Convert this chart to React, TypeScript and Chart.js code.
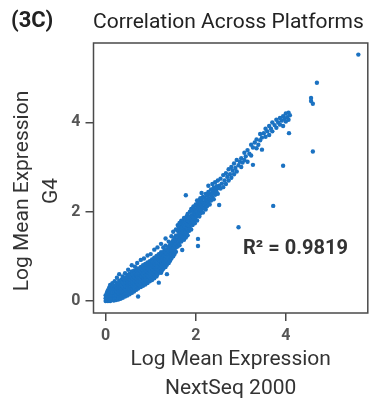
import React, { useEffect, useRef } from 'react';
import { Chart, registerables } from 'chart.js';

Chart.register(...registerables);

const panelLabel = '(3C)';
const chartTitle = 'Correlation Across Platforms';
const xTitleLines = ['Log Mean Expression', 'NextSeq 2000'];
const yTitleLines = ['Log Mean Expression', 'G4'];
const xTickValues = [0, 2, 4];
const yTickValues = [0, 2, 4];
const r2Label = 'R\u00B2 = 0.9819';

// NextSeq 2000 log mean expression (one entry per column of genes)
const nextSeqX = [
  0.0, 0.03, 0.05, 0.08, 0.1, 0.13, 0.15, 0.18, 0.2, 0.23,
  0.25, 0.28, 0.3, 0.33, 0.35, 0.38, 0.4, 0.43, 0.45, 0.48,
  0.5, 0.53, 0.55, 0.58, 0.6, 0.63, 0.65, 0.68, 0.7, 0.72,
  0.75, 0.78, 0.8, 0.83, 0.85, 0.88, 0.9, 0.93, 0.95, 0.98,
  1.0, 1.03, 1.05, 1.08, 1.1, 1.13, 1.15, 1.18, 1.2, 1.23,
  1.25, 1.28, 1.3, 1.33, 1.36, 1.4, 1.43, 1.46, 1.5, 1.53,
  1.56,
  1.6, 1.62, 1.64, 1.66, 1.68, 1.7, 1.72, 1.74, 1.76, 1.78,
  1.8, 1.82, 1.85, 1.87, 1.9, 1.93, 1.95, 1.98, 2.0, 2.03,
  2.05, 2.08, 2.1, 2.13, 2.16, 2.19, 2.22, 2.25, 2.28, 2.31,
  2.34, 2.37, 2.4, 2.43, 2.46, 2.49, 2.52, 2.55, 2.58, 2.61,
  2.64, 2.67, 2.7, 2.73, 2.76, 2.79, 2.82, 2.85, 2.88, 2.91,
  2.95, 2.98, 3.01, 3.04, 3.08, 3.11, 3.15, 3.19, 3.23, 3.27,
  3.31, 3.35, 3.39, 3.43, 3.47, 3.51, 3.55, 3.59, 3.63, 3.67,
  3.7, 3.72, 3.75, 3.79, 3.83, 3.87, 3.91, 3.94, 3.97, 4.0,
  4.03, 4.06, 4.07, 4.09, 4.56, 4.6, 4.69, 5.61,
];

// G4 log mean expression for the genes in each column above
const g4Y = [
  [0.0, 0.06, 0.13],
  [0.02, 0.1, 0.19],
  [0.0, 0.05, 0.14, 0.24],
  [0.03, 0.09, 0.17, 0.3],
  [0.0, 0.06, 0.12, 0.21, 0.36],
  [0.02, 0.1, 0.16, 0.26],
  [0.05, 0.12, 0.19, 0.31, 0.4],
  [0.01, 0.08, 0.15, 0.23, 0.35],
  [0.04, 0.11, 0.18, 0.27, 0.44],
  [0.02, 0.09, 0.16, 0.24, 0.33],
  [0.06, 0.13, 0.21, 0.29, 0.4, 0.52],
  [0.03, 0.11, 0.19, 0.27, 0.36],
  [0.08, 0.16, 0.24, 0.32, 0.45, 0.6],
  [0.05, 0.14, 0.22, 0.3, 0.4],
  [0.1, 0.19, 0.27, 0.35, 0.48],
  [0.07, 0.17, 0.25, 0.33, 0.42, 0.55],
  [0.13, 0.22, 0.3, 0.39, 0.5],
  [0.1, 0.2, 0.28, 0.36, 0.45, 0.62],
  [0.16, 0.25, 0.33, 0.41, 0.52],
  [0.12, 0.22, 0.31, 0.39, 0.47, 0.58],
  [0.19, 0.28, 0.36, 0.44, 0.55, 0.7],
  [0.15, 0.25, 0.34, 0.42, 0.5, 0.61],
  [0.22, 0.31, 0.39, 0.47, 0.57],
  [0.18, 0.28, 0.37, 0.45, 0.53, 0.66, 0.8],
  [0.25, 0.34, 0.42, 0.5, 0.6],
  [0.21, 0.31, 0.4, 0.48, 0.56, 0.68],
  [0.28, 0.37, 0.45, 0.53, 0.63, 0.77],
  [0.25, 0.35, 0.43, 0.51, 0.59, 0.7],
  [0.31, 0.4, 0.48, 0.56, 0.66, 0.85],
  [0.1, 0.28, 0.38, 0.46, 0.54, 0.62, 0.73],
  [0.34, 0.43, 0.51, 0.59, 0.69],
  [0.31, 0.41, 0.49, 0.57, 0.65, 0.76, 0.92],
  [0.37, 0.46, 0.54, 0.62, 0.72],
  [0.34, 0.44, 0.52, 0.6, 0.68, 0.8],
  [0.4, 0.49, 0.57, 0.65, 0.75, 0.95],
  [0.37, 0.47, 0.55, 0.63, 0.71, 0.83],
  [0.43, 0.52, 0.6, 0.68, 0.78],
  [0.4, 0.5, 0.58, 0.66, 0.74, 0.86, 1.02],
  [0.46, 0.55, 0.63, 0.71, 0.81],
  [0.44, 0.53, 0.61, 0.69, 0.77, 0.89],
  [0.49, 0.58, 0.66, 0.74, 0.84, 1.05],
  [0.47, 0.57, 0.65, 0.73, 0.81, 0.93],
  [0.53, 0.62, 0.7, 0.78, 0.88],
  [0.51, 0.61, 0.69, 0.77, 0.85, 0.97, 1.15],
  [0.56, 0.66, 0.74, 0.82, 0.92],
  [0.55, 0.65, 0.73, 0.81, 0.89, 1.01],
  [0.6, 0.7, 0.78, 0.86, 0.96, 1.2],
  [0.41, 0.69, 0.77, 0.85, 0.93, 1.05],
  [0.64, 0.74, 0.82, 0.9, 1.0],
  [0.63, 0.73, 0.81, 0.89, 0.97, 1.09, 1.28],
  [0.68, 0.78, 0.86, 0.94, 1.04],
  [0.72, 0.82, 0.9, 0.98, 1.08, 1.2],
  [0.77, 0.86, 0.94, 1.02, 1.12],
  [0.76, 0.86, 0.94, 1.02, 1.1, 1.24, 1.4],
  [0.6, 0.81, 0.91, 0.99, 1.07, 1.16],
  [0.85, 0.95, 1.03, 1.11, 1.21, 1.33],
  [0.9, 1.0, 1.08, 1.16, 1.26],
  [0.95, 1.05, 1.13, 1.21, 1.3, 1.45],
  [1.0, 1.1, 1.18, 1.26, 1.36, 1.55],
  [1.05, 1.15, 1.23, 1.31, 1.41],
  [1.1, 1.2, 1.28, 1.36, 1.46, 1.6],
  // 1.60 onward
  [1.22, 1.38, 1.47, 1.58, 1.7],
  [1.3, 1.44, 1.55, 1.66],
  [1.25, 1.36, 1.52, 1.61, 1.75],
  [1.41, 1.49, 1.58, 1.7],
  [1.33, 1.46, 1.56, 1.64, 1.8],
  [1.14, 1.39, 1.52, 1.62, 1.73],
  [1.45, 1.57, 1.68, 1.78],
  [1.37, 1.5, 1.61, 1.71, 1.86],
  [1.48, 1.59, 1.66, 1.79],
  [1.42, 1.55, 1.7, 1.82, 2.37],
  [1.51, 1.63, 1.74, 1.9],
  [1.47, 1.6, 1.71, 1.8, 1.95],
  [1.57, 1.68, 1.78, 1.87],
  [1.63, 1.75, 1.84, 2.0],
  [1.6, 1.73, 1.82, 1.92, 2.06],
  [1.7, 1.8, 1.9, 2.02],
  [1.76, 1.87, 1.97, 2.12],
  [1.74, 1.85, 1.95, 2.05],
  [1.82, 1.93, 2.03, 2.16],
  [1.8, 1.9, 2.01, 2.11, 2.25],
  [1.23, 1.39, 1.95, 2.08, 2.19],
  [1.89, 2.0, 2.12, 2.23],
  [1.96, 2.06, 2.17, 2.3],
  [2.02, 2.14, 2.26, 2.42],
  [1.98, 2.1, 2.21, 2.33],
  [2.08, 2.19, 2.31],
  [2.05, 2.15, 2.27, 2.4],
  [2.12, 2.24, 2.36],
  [2.2, 2.31, 2.44, 2.58],
  [2.16, 2.28, 2.4],
  [2.25, 2.37, 2.5],
  [2.32, 2.45, 2.62],
  [2.28, 2.42, 2.54],
  [2.38, 2.5, 2.66],
  [2.45, 2.57],
  [2.4, 2.53, 2.7],
  [2.15, 2.58],
  [2.52, 2.74],
  [2.63],
  [2.55, 2.82],
  [2.7],
  [2.62, 2.86],
  [2.78],
  [2.7, 2.95],
  [2.84],
  [2.76, 3.0],
  [2.92],
  [2.84, 3.08],
  [2.98],
  [2.9, 3.16],
  [1.65, 3.04],
  [3.12],
  [3.0, 3.2],
  [3.1],
  [3.16, 3.32],
  [3.24],
  [3.12, 3.38],
  [3.3],
  [3.26, 3.5],
  [3.05, 3.44],
  [3.55],
  [3.42, 3.62],
  [3.5],
  [3.6, 3.74],
  [3.39, 3.66],
  [3.76],
  [3.68, 3.86],
  [3.8],
  [3.72, 3.92],
  [3.86],
  [3.8, 4.0],
  [2.13],
  [3.94],
  [3.88, 4.06],
  [4.0],
  [3.95, 4.1],
  [4.04],
  [3.03, 3.92, 4.14],
  [4.08],
  [4.02, 4.2],
  [4.12],
  [4.06, 4.22],
  [3.76],
  [4.16],
  [4.48, 4.55],
  [3.35, 4.42],
  [4.89],
  [5.52],
];

const FONT = 'Roboto, "Noto Sans", sans-serif';

export default function App() {
  const ref = useRef<HTMLCanvasElement>(null);

  useEffect(() => {
    if (!ref.current) return;
    const points = nextSeqX.flatMap((x, i) => (g4Y[i] || []).map((y) => ({ x, y })));

    const decor = {
      id: 'decor',
      afterDraw(chart: any) {
        const { ctx, chartArea } = chart;
        ctx.save();
        ctx.strokeStyle = '#4a4a4a';
        ctx.lineWidth = 1.5;
        ctx.strokeRect(chartArea.left, chartArea.top, chartArea.right - chartArea.left, chartArea.bottom - chartArea.top);

        ctx.fillStyle = '#222';
        ctx.textBaseline = 'alphabetic';
        ctx.textAlign = 'left';
        ctx.font = `bold 22px ${FONT}`;
        ctx.fillText(panelLabel, 11, 27);
        ctx.font = `21px ${FONT}`;
        ctx.fillText(chartTitle, 93, 28);

        ctx.fillStyle = '#333';
        ctx.textAlign = 'center';
        const cx = (chartArea.left + chartArea.right) / 2;
        ctx.fillText(xTitleLines[0], cx, 365);
        ctx.fillText(xTitleLines[1], cx, 394);

        const yLineX = [28, 57];
        yTitleLines.forEach((line, i) => {
          ctx.save();
          ctx.translate(yLineX[i], 191);
          ctx.rotate(-Math.PI / 2);
          ctx.fillText(line, 0, 0);
          ctx.restore();
        });

        ctx.textAlign = 'left';
        ctx.font = `bold 20px ${FONT}`;
        ctx.fillText(r2Label, 243, 254);
        ctx.restore();
      },
    };

    const tickFont = { family: FONT, size: 16, weight: 'bold' as const };

    const chart = new Chart(ref.current, {
      type: 'scatter',
      data: {
        datasets: [
          {
            data: points,
            pointRadius: 2.2,
            pointBorderWidth: 0,
            pointHoverRadius: 2.2,
            backgroundColor: '#1b72c2',
            borderColor: '#1b72c2',
          },
        ],
      },
      options: {
        animation: false,
        responsive: false,
        devicePixelRatio: 1,
        layout: { padding: { top: 43, right: 1.5, left: 0, bottom: 0 } },
        plugins: {
          legend: { display: false },
          title: { display: false },
          tooltip: { enabled: false },
        },
        scales: {
          x: {
            type: 'linear',
            min: -0.27,
            max: 5.82,
            afterBuildTicks: (s: any) => {
              s.ticks = xTickValues.map((v) => ({ value: v }));
            },
            afterFit: (s: any) => {
              s.height = 89;
            },
            border: { display: false },
            grid: { drawOnChartArea: false, drawTicks: true, tickLength: 8, color: '#4a4a4a', lineWidth: 1.5 },
            ticks: { color: '#555', font: tickFont, padding: 5 },
          },
          y: {
            type: 'linear',
            min: -0.27,
            max: 5.78,
            afterBuildTicks: (s: any) => {
              s.ticks = yTickValues.map((v) => ({ value: v }));
            },
            afterFit: (s: any) => {
              s.width = 93.5;
            },
            border: { display: false },
            grid: { drawOnChartArea: false, drawTicks: true, tickLength: 8, color: '#4a4a4a', lineWidth: 1.5 },
            ticks: { color: '#555', font: tickFont, padding: 5 },
          },
        },
      },
      plugins: [decor],
    });
    return () => chart.destroy();
  }, []);

  return (
    <div style={{ position: 'absolute', left: 0, top: 0, width: 370, height: 402, background: '#fff' }}>
      <canvas ref={ref} width={370} height={402} style={{ display: 'block', width: 370, height: 402 }} />
    </div>
  );
}
